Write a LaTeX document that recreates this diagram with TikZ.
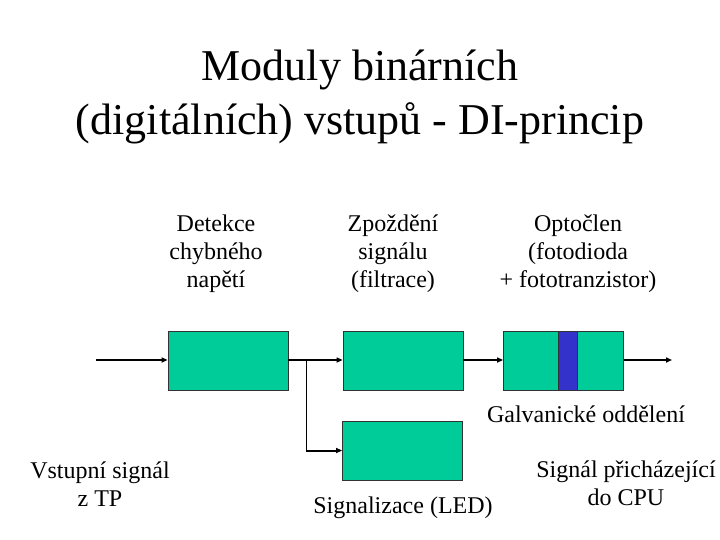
\documentclass[tikz,border=0pt]{standalone}
\usepackage{fontspec}
\setmainfont{Liberation Serif}
\usetikzlibrary{arrows.meta, positioning}
\definecolor{modgreen}{RGB}{0,204,153}
\definecolor{modblue}{RGB}{51,51,204}
\tikzstyle{arrow} = [line width=2pt,-{Triangle[length=6pt,width=5pt]}]

\begin{document}
\begin{tikzpicture}[x=1pt, y=-1pt, every node/.style={align=center, font=\fontsize{24}{28}\selectfont}]
    \tikzset{
        modbox/.style={rectangle, draw=black!80, fill=modgreen, line width=0.8pt, minimum width=120pt, minimum height=59pt},
        barbox/.style={rectangle, draw=black!80, fill=modblue, line width=0.8pt, minimum width=19pt, minimum height=59pt},
        title/.style={font=\fontsize{44}{54}\selectfont}
    }
    \useasboundingbox (0,0) rectangle (720,540);

    % --- TITLE ---
    \node (T) [title] at (360,97) {Moduly binárních\\(digitálních) vstupů - DI-princip};

    % --- MODULES ---
    \node (D) [modbox] at (228,360.5) {};
    \node (Z) [modbox] at (403,360.5) {};
    \node (O) [modbox] at (563.5,360.5) {};
    \node (B) [barbox] at (567.5,360.5) {};
    \node (L) [modbox] at (402.5,450.5) {};

    % --- LABELS ---
    \node (Dl) at (216,254) {Detekce\\chybného\\napětí};
    \node (Zl) at (393,254) {Zpoždění\\signálu\\(filtrace)};
    \node (Ol) at (578,254) {Optočlen\\(fotodioda\\+ fototranzistor)};
    \node (Gl) at (586,414) {Galvanické oddělení};
    \node (Vl) at (100,484) {Vstupní signál\\z TP};
    \node (Ll) at (403,508) {Signalizace (LED)};
    \node (Sl) at (626,483) {Signál přicházející\\do CPU};

    % --- CONNECTIONS ---
    \coordinate (in) at (96,360);
    \coordinate (out) at (672,360);
    \coordinate (br) at (306,360);
    \draw[arrow] (in) -- (D.west |- in);
    \draw[arrow] (D.east |- br) -- (Z.west |- br);
    \draw[line width=1pt] (br) -- (br |- L.west);
    \draw[arrow] (br |- L.west) -- (L.west);
    \draw[arrow] (Z.east |- br) -- (O.west |- br);
    \draw[arrow] (O.east |- out) -- (out);

\end{tikzpicture}
\end{document}
